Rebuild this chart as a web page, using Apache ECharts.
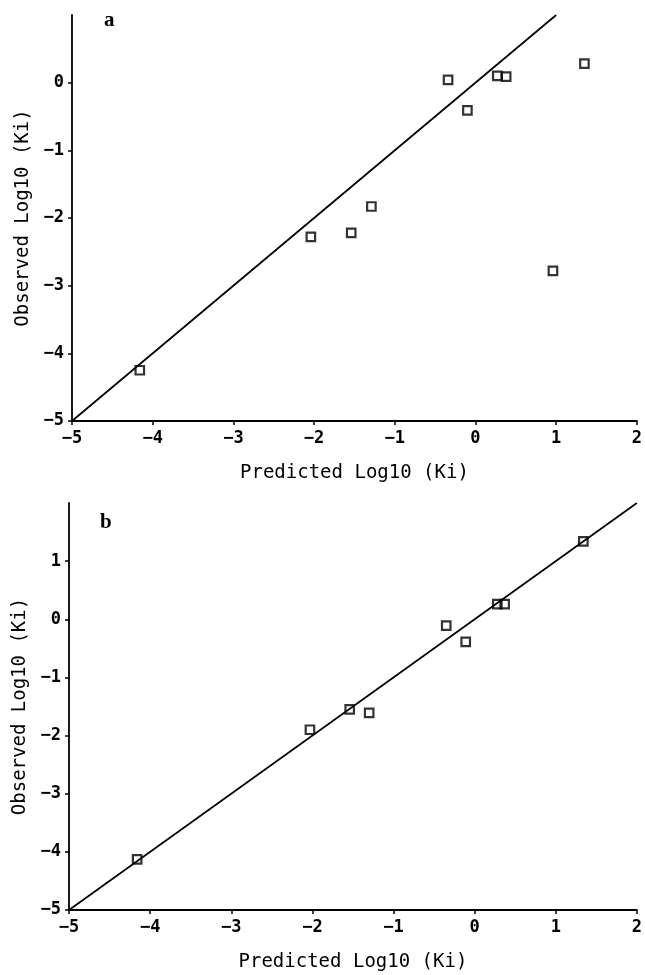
<!DOCTYPE html>
<html>
<head>
<meta charset="utf-8">
<title>Observed vs Predicted Log10 (Ki)</title>
<script src="https://cdn.jsdelivr.net/npm/echarts@6/dist/echarts.min.js"></script>
<style>
    html, body { margin: 0; padding: 0; background: #ffffff; }
    #main { width: 645px; height: 975px; }
</style>
</head>
<body>
<div id="main"></div>
<script>
// panel a
var predictedA = [-4.16, -2.04, -1.54, -1.29, -0.34, -0.10, 0.27, 0.38, 0.96, 1.35];
var observedA = [-4.25, -2.28, -2.22, -1.83, 0.04, -0.41, 0.10, 0.09, -2.78, 0.28];
var identityA = [-5, 1];

// panel b
var predictedB = [-4.16, -2.03, -1.54, -1.30, -0.35, -0.11, 0.28, 0.37, 1.34];
var observedB = [-4.13, -1.90, -1.55, -1.61, -0.11, -0.39, 0.26, 0.26, 1.34];
var identityB = [-5, 2];

var xRange = [-5, 2];
var yRangeA = [-5, 1];
var yRangeB = [-5, 2];
var panelLabels = ['a', 'b'];

var xName = 'Predicted Log10 (Ki)';
var yName = 'Observed Log10 (Ki)';

function pairs(xs, ys) {
    var out = [];
    for (var i = 0; i < xs.length; i++) {
        out.push([xs[i], ys[i]]);
    }
    return out;
}

var monoFont = '"DejaVu Sans Mono", "Liberation Mono", monospace';
var black = '#000000';

// plotter style minus sign
function tickText(v) {
    return String(v).replace('-', '\u2212');
}

function xAxisFor(gridIndex) {
    return {
        type: 'value',
        gridIndex: gridIndex,
        min: xRange[0],
        max: xRange[1],
        interval: 1,
        name: xName,
        nameLocation: 'middle',
        nameGap: 43,
        nameTextStyle: { color: black, fontFamily: monoFont, fontSize: 19 },
        axisLine: { onZero: false, lineStyle: { color: black, width: 1.8 } },
        axisTick: { inside: false, length: 4, lineStyle: { color: black, width: 1.5 } },
        axisLabel: { color: black, fontFamily: monoFont, fontSize: 17, fontWeight: 'bold', margin: 9, formatter: tickText },
        splitLine: { show: false }
    };
}

function yAxisFor(gridIndex, range) {
    return {
        type: 'value',
        gridIndex: gridIndex,
        min: range[0],
        max: range[1],
        interval: 1,
        name: yName,
        nameLocation: 'middle',
        nameGap: 39,
        nameTextStyle: { color: black, fontFamily: monoFont, fontSize: 19 },
        axisLine: { onZero: false, lineStyle: { color: black, width: 1.8 } },
        axisTick: { inside: false, length: 4, lineStyle: { color: black, width: 1.5 } },
        axisLabel: { color: black, fontFamily: monoFont, fontSize: 17, fontWeight: 'bold', margin: 8, showMaxLabel: false, formatter: tickText },
        splitLine: { show: false }
    };
}

function pointSeries(index, xs, ys) {
    return {
        type: 'scatter',
        xAxisIndex: index,
        yAxisIndex: index,
        symbol: 'rect',
        symbolSize: 8.5,
        itemStyle: { color: 'rgba(0,0,0,0)', borderColor: black, borderWidth: 2.2 },
        data: pairs(xs, ys),
        z: 3
    };
}

function lineSeries(index, ends) {
    return {
        type: 'line',
        xAxisIndex: index,
        yAxisIndex: index,
        showSymbol: false,
        lineStyle: { color: black, width: 1.7 },
        data: pairs(ends, ends),
        z: 2
    };
}

var myChart = echarts.init(document.getElementById('main'));

var option = {
    backgroundColor: '#ffffff',
    animation: false,
    grid: [
        { left: 72, top: 15, width: 570, height: 406 },
        { left: 69, top: 503, width: 570, height: 407 }
    ],
    graphic: [
        {
            type: 'text', left: 104, top: 10,
            style: { text: panelLabels[0], fill: black, font: 'bold 21px "Liberation Serif", serif' }
        },
        {
            type: 'text', left: 100, top: 512,
            style: { text: panelLabels[1], fill: black, font: 'bold 21px "Liberation Serif", serif' }
        }
    ],
    xAxis: [xAxisFor(0), xAxisFor(1)],
    yAxis: [yAxisFor(0, yRangeA), yAxisFor(1, yRangeB)],
    series: [
        lineSeries(0, identityA),
        pointSeries(0, predictedA, observedA),
        lineSeries(1, identityB),
        pointSeries(1, predictedB, observedB)
    ]
};

myChart.setOption(option, true);
</script>
</body>
</html>
